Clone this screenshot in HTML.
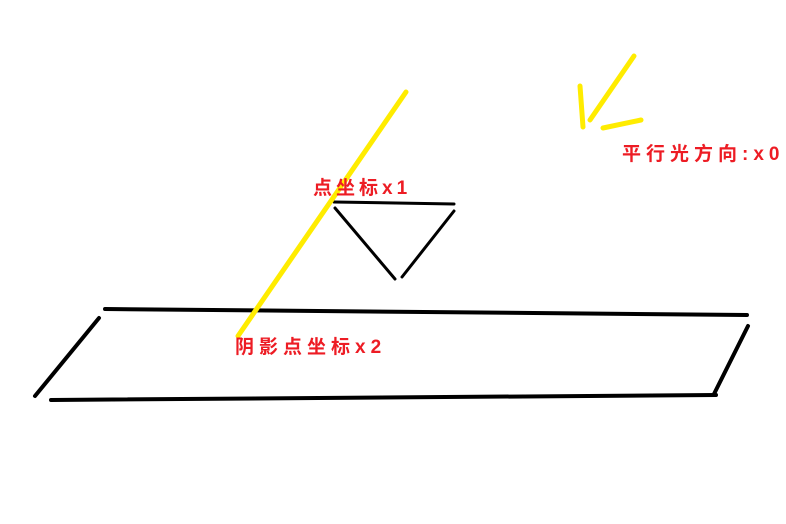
<!DOCTYPE html>
<html><head><meta charset="utf-8"><style>
html,body{margin:0;padding:0;background:#fff;}
svg{display:block;}
text{font-family:"Liberation Sans","WenQuanYi Zen Hei","Noto Sans CJK SC",sans-serif;font-weight:bold;fill:#ed1c24;font-size:19px;}
</style></head><body>
<svg width="786" height="524" viewBox="0 0 786 524">
<rect width="786" height="524" fill="#fff"/>
<g stroke="#000" stroke-width="4" stroke-linecap="round" fill="none">
<line x1="105" y1="309" x2="747" y2="315"/>
<line x1="748" y1="326" x2="714" y2="394"/>
<line x1="51" y1="400" x2="716" y2="395"/>
<line x1="99" y1="318" x2="35" y2="396"/>
</g>
<g stroke="#000" stroke-width="3" stroke-linecap="round" fill="none">
<line x1="334" y1="202" x2="454" y2="204"/>
<line x1="335" y1="208" x2="395" y2="279"/>
<line x1="454" y1="211" x2="402" y2="277"/>
</g>
<g stroke="#ffec00" stroke-width="5" stroke-linecap="round" fill="none">
<line x1="406" y1="92" x2="238" y2="336"/>
</g>
<g stroke="#ffec00" stroke-width="5" stroke-linecap="round" fill="none">
<line x1="634" y1="56" x2="590" y2="120"/>
<line x1="580" y1="86" x2="583" y2="127"/>
<line x1="603" y1="128" x2="641" y2="120"/>
</g>
<text x="622" y="160" style="letter-spacing:5px">平行光方向:x0</text>
<text x="313" y="194" style="letter-spacing:4px">点坐标x1</text>
<text x="235" y="353" style="letter-spacing:5px">阴影点坐标x2</text>
</svg>
</body></html>
